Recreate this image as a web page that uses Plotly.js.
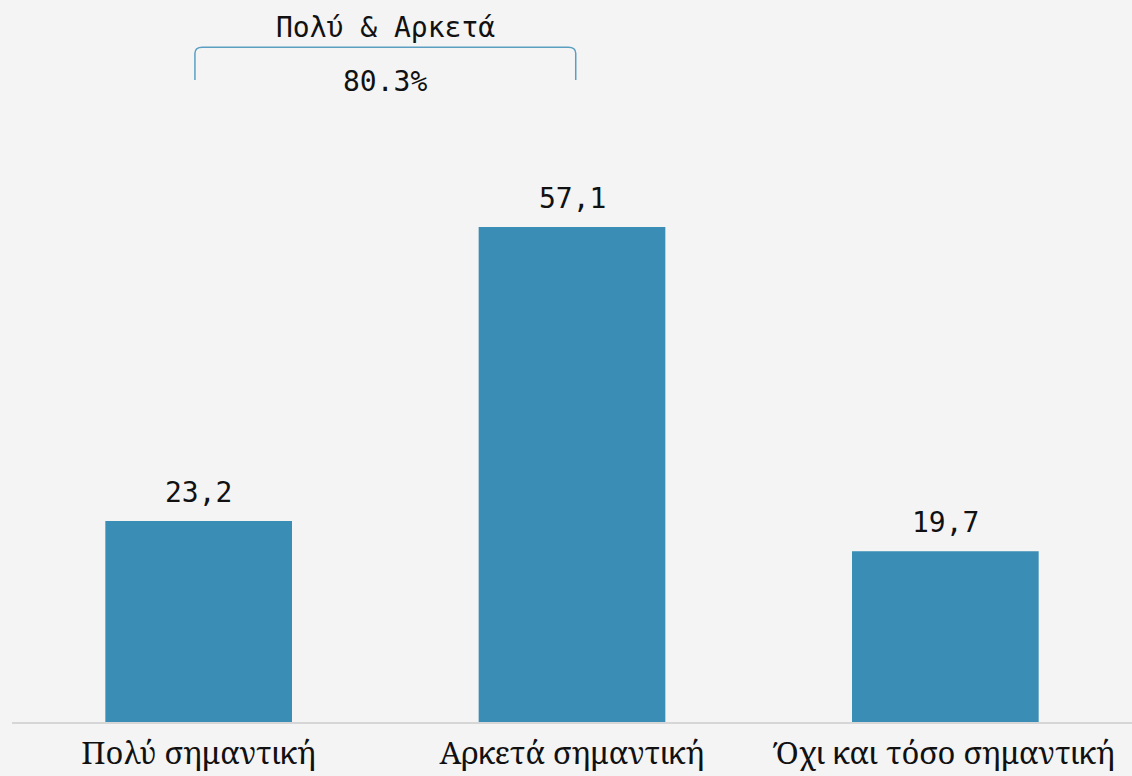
<!DOCTYPE html>
<html>
<head>
<meta charset="utf-8">
<script src="https://cdn.plot.ly/plotly-3.0.1.min.js"></script>
<style>html,body{margin:0;padding:0;background:#f4f4f4;}#chart{width:1132px;height:776px;}</style>
</head>
<body>
<div id="chart"></div>
<script>
var categories = ["Πολύ σημαντική", "Αρκετά σημαντική", "Όχι και τόσο σημαντική"];
var values = [23.2, 57.1, 19.7];
var valueLabels = ["23,2", "57,1", "19,7"];
var bracketTitle = "Πολύ & Αρκετά";
var bracketValue = "80.3%";

var barColor = "#3a8eb5";
var mono = "DejaVu Sans Mono, Liberation Mono, monospace";
var serif = "Noto Serif, DejaVu Serif, Liberation Serif, serif";

var trace = {
  type: "bar",
  x: categories,
  y: values,
  marker: {color: barColor},
  hoverinfo: "none"
};

var annotations = categories.map(function(c, i) {
  return {
    x: c, y: values[i], xref: "x", yref: "y",
    text: valueLabels[i], showarrow: false,
    yanchor: "bottom", yshift: 10,
    font: {family: mono, size: 28, color: "#111"}
  };
});
annotations.push({
  x: 0.5, y: 1.116, xref: "x", yref: "paper",
  text: bracketTitle, showarrow: false, yanchor: "middle",
  font: {family: mono, size: 28, color: "#111"}
});
annotations.push({
  x: 0.5, y: 1.03, xref: "x", yref: "paper",
  text: bracketValue, showarrow: false, yanchor: "middle",
  font: {family: mono, size: 28, color: "#111"}
});

var layout = {
  width: 1132, height: 776,
  paper_bgcolor: "#f4f4f4", plot_bgcolor: "#f4f4f4",
  margin: {l: 12, r: 0, t: 100, b: 54},
  bargap: 0.5,
  showlegend: false,
  xaxis: {
    type: "category",
    showline: true, linecolor: "#d6d6d6", linewidth: 2,
    ticks: "", showgrid: false, zeroline: false,
    ticklabelstandoff: 3,
    tickfont: {family: serif, size: 31, color: "#111"}
  },
  yaxis: {
    range: [0, 71.75], visible: false, showgrid: false, zeroline: false
  },
  annotations: annotations,
  shapes: [{
    type: "path", xref: "x", yref: "paper",
    path: "M -0.01,1.032 L -0.01,1.075 Q -0.01,1.085 0.01,1.085 L 0.99,1.085 Q 1.01,1.085 1.01,1.075 L 1.01,1.032",
    line: {color: "#5a9fc2", width: 1.5}
  }]
};

Plotly.newPlot("chart", [trace], layout, {displayModeBar: false, staticPlot: true});
</script>
</body>
</html>
